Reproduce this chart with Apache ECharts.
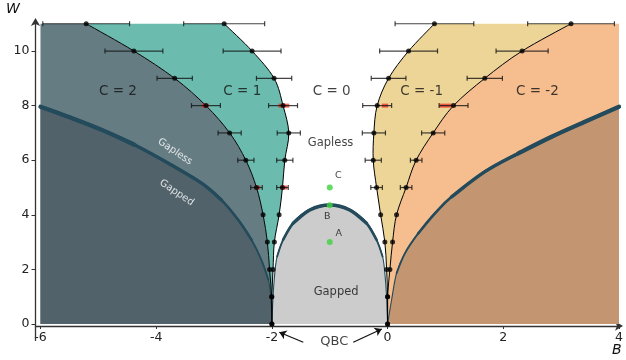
<!DOCTYPE html>
<html>
<head>
<meta charset="utf-8">
<title>Phase diagram B-W</title>
<script src="https://cdn.jsdelivr.net/npm/echarts@6/dist/echarts.min.js"></script>
<style>
  html, body { margin: 0; padding: 0; background: #fff; }
  #chart { width: 626px; height: 360px; }
</style>
</head>
<body>
<div id="chart"></div>
<script>
// W levels of the computed transition points
const wLevels = [0, 1, 2, 3, 4, 5, 6, 7, 8, 9, 10, 11]
// B position of each Chern-number boundary at those W
const bC2C1 = [-2.0, -2.005, -2.04, -2.078, -2.152, -2.266, -2.45, -2.73, -3.14, -3.68, -4.385, -5.21]
const bC1C0 = [-2.0, -2.0, -1.98, -1.957, -1.875, -1.817, -1.777, -1.708, -1.807, -1.962, -2.342, -2.825]
const bC0Cm1 = [0, 0, -0.017, -0.047, -0.12, -0.19, -0.248, -0.237, -0.18, 0.017, 0.363, 0.81]
const bCm1Cm2 = [0, 0, 0.04, 0.086, 0.155, 0.32, 0.494, 0.788, 1.14, 1.68, 2.325, 3.171]
// half width of the error bars (0 = none drawn)
const errC2C1 = [0, 0, 0, 0, 0, 0.1, 0.14, 0.2, 0.25, 0.305, 0.5, 0.75]
const errC1C0 = [0, 0, 0, 0, 0, 0.1, 0.14, 0.2, 0.25, 0.305, 0.5, 0.7]
const errC0Cm1 = [0, 0, 0, 0, 0, 0.1, 0.14, 0.2, 0.25, 0.3, 0.5, 0.68]
const errCm1Cm2 = [0, 0, 0, 0, 0, 0.1, 0.1, 0.2, 0.25, 0.305, 0.45, 0.75]
// second estimate (red) of some boundaries
const redW = [8, 8, 8, 8, 5, 5]
const redFrom = [-3.21, -1.889, -0.10, 0.893, -2.29, -1.86]
const redTo = [-3.09, -1.699, 0.01, 1.125, -2.20, -1.734]
// gapped / gapless boundaries
const gapLeftB = [-6.0, -5.52, -4.94, -4.37, -3.79, -3.21, -2.87, -2.58, -2.35, -2.18, -2.06, -2.015, -2.0]
const gapLeftW = [7.96, 7.59, 7.11, 6.56, 5.89, 5.15, 4.54, 3.81, 3.08, 2.34, 1.61, 0.88, 0]
const gapRightB = [0, 0.069, 0.155, 0.299, 0.529, 0.818, 1.106, 1.682, 2.258, 2.835, 3.41, 4.0]
const gapRightW = [0, 0.88, 1.86, 2.59, 3.32, 4.05, 4.66, 5.58, 6.25, 6.86, 7.41, 7.96]
const domeB = [-2, -1.98, -1.95, -1.91, -1.807, -1.634, -1.345, -1.0, -0.655, -0.363, -0.19, -0.086, -0.047, -0.017, 0]
const domeW = [0, 1.0, 1.86, 2.47, 3.08, 3.69, 4.18, 4.36, 4.18, 3.69, 3.08, 2.47, 1.86, 1.0, 0]
// test points A, B, C
const testB = [-1, -1, -1]
const testW = [3.0, 4.35, 5.0]
// ticks
const xTicks = [-6, -4, -2, 0, 2, 4]
const yTicks = [0, 2, 4, 6, 8, 10]

const FONT = 'DejaVu Sans'
const AXIS = '#333'

// catmull-rom through pixel points, as svg cubic segments
function spline(pts) {
  let d = ''
  for (let i = 0; i < pts.length - 1; i++) {
    const p0 = pts[Math.max(i - 1, 0)], p1 = pts[i], p2 = pts[i + 1], p3 = pts[Math.min(i + 2, pts.length - 1)]
    const c1x = p1[0] + (p2[0] - p0[0]) / 6, c1y = p1[1] + (p2[1] - p0[1]) / 6
    const c2x = p2[0] - (p3[0] - p1[0]) / 6, c2y = p2[1] - (p3[1] - p1[1]) / 6
    d += ` C ${c1x} ${c1y} ${c2x} ${c2y} ${p2[0]} ${p2[1]}`
  }
  return d
}
const pt = p => ` ${p[0]} ${p[1]}`

function renderRegions(params, api) {
  const px = (bs, ws) => bs.map((b, i) => api.coord([b, ws[i]]))
  const c = (b, w) => api.coord([b, w])
  const rev = a => a.slice().reverse()
  const l1 = px(bC2C1, wLevels), l2 = px(bC1C0, wLevels), l3 = px(bC0Cm1, wLevels), l4 = px(bCm1Cm2, wLevels)
  const gl = px(gapLeftB, gapLeftW), gr = px(gapRightB, gapRightW), dome = px(domeB, domeW)
  const area = (d, fill) => ({ type: 'path', shape: { pathData: d }, style: { fill: fill, stroke: null } })
  const stroke = (pts, color, width) => ({
    type: 'path', shape: { pathData: 'M' + pt(pts[0]) + spline(pts) },
    style: { fill: null, stroke: color, lineWidth: width, lineCap: 'round', lineJoin: 'round' }
  })
  // curve pieces above a W level get a thicker stroke (tapering line)
  const dark = '#244b5b'
  const tapered = (bs, ws, steps) => steps.map(([minW, width]) => {
    const idx = ws.map((w, i) => i).filter(i => ws[i] >= minW)
    return stroke(idx.map(i => c(bs[i], ws[i])), dark, width)
  })
  const taper = [[-1, 1.1], [1.5, 1.8], [3.0, 2.6], [4.5, 3.4], [6.0, 4.2]]
  const domeTaper = [[-1, 1.1], [2.4, 1.8], [3.0, 2.6], [3.65, 3.4]]
  return {
    type: 'group',
    children: [
      area('M' + pt(c(-6, 0)) + ' L' + pt(c(-6, 11)) + ' L' + pt(l1[11]) + spline(rev(l1)) + ' Z', '#657c83'),
      area('M' + pt(c(-6, 0)) + ' L' + pt(gl[0]) + spline(gl) + ' Z', '#51626a'),
      area('M' + pt(l1[0]) + spline(l1) + ' L' + pt(l2[11]) + spline(rev(l2)) + ' Z', '#6bbcaf'),
      area('M' + pt(dome[0]) + spline(dome) + ' Z', '#cccccc'),
      area('M' + pt(l3[0]) + spline(l3) + ' L' + pt(l4[11]) + spline(rev(l4)) + ' Z', '#edd597'),
      area('M' + pt(l4[0]) + spline(l4) + ' L' + pt(c(4, 11)) + ' L' + pt(c(4, 0)) + ' Z', '#f6bd8f'),
      area('M' + pt(gr[0]) + spline(gr) + ' L' + pt(c(4, 0)) + ' Z', '#c49571'),
      ...tapered(gapLeftB, gapLeftW, taper),
      ...tapered(gapRightB, gapRightW, taper),
      ...tapered(domeB, domeW, domeTaper),
      stroke(l1, '#000', 1),
      stroke(l2, '#000', 1),
      stroke(l3, '#000', 1),
      stroke(l4, '#000', 1)
    ]
  }
}

// rows for error bars and dots
const errRows = []
const dots = []
;[[bC2C1, errC2C1], [bC1C0, errC1C0], [bC0Cm1, errC0Cm1], [bCm1Cm2, errCm1Cm2]].forEach(([bs, es]) => {
  wLevels.forEach((w, i) => {
    dots.push([bs[i], w])
    if (es[i] > 0) errRows.push([bs[i], w, es[i]])
  })
})
const redRows = redW.map((w, i) => [redFrom[i], w, redTo[i]])

const chart = echarts.init(document.getElementById('chart'), null, { renderer: 'canvas' })

const txt = (name, b, w, extra) => ({ name: name, value: [b, w], label: Object.assign({ fontSize: 13.5 }, extra || {}) })

chart.setOption({
  animation: false,
  backgroundColor: '#fff',
  grid: { left: 35.5, right: 7, top: 21, bottom: 34, containLabel: false, outerBoundsMode: 'none' },
  xAxis: {
    type: 'value', min: -6.086, max: 4,
    axisLine: { show: true, onZero: false, symbol: ['none', 'arrow'], symbolSize: [7, 8], symbolOffset: [0, 4], lineStyle: { color: AXIS, width: 1.3 } },
    axisTick: { show: true, length: 3, customValues: xTicks, lineStyle: { color: AXIS } },
    axisLabel: { customValues: xTicks, color: '#222', fontSize: 12.5, margin: 5, fontFamily: FONT },
    splitLine: { show: false }
  },
  yAxis: {
    type: 'value', min: -0.073, max: 11.1,
    axisLine: { show: true, onZero: false, symbol: ['none', 'arrow'], symbolSize: [7, 8], symbolOffset: [0, 3], lineStyle: { color: AXIS, width: 1.3 } },
    axisTick: { show: true, length: 4, customValues: yTicks, lineStyle: { color: AXIS } },
    axisLabel: { customValues: yTicks, color: '#222', fontSize: 12.5, margin: 6, fontFamily: FONT },
    splitLine: { show: false }
  },
  graphic: [
    { type: 'text', left: 6, top: 2, style: { text: 'W', fontSize: 14, fontStyle: 'italic', fontFamily: FONT, fill: '#111' } },
    { type: 'text', left: 612, top: 343, style: { text: 'B', fontSize: 14, fontStyle: 'italic', fontFamily: FONT, fill: '#111' } }
  ],
  series: [
    {
      type: 'custom', name: 'regions', z: 1, silent: true,
      renderItem: renderRegions,
      data: [[0, 0]]
    },
    {
      type: 'custom', name: 'red', z: 2, silent: true,
      renderItem: (params, api) => {
        const a = api.coord([api.value(0), api.value(1)])
        const b = api.coord([api.value(2), api.value(1)])
        return { type: 'line', shape: { x1: a[0], y1: a[1], x2: b[0], y2: b[1] }, style: { stroke: 'rgba(235,45,35,0.75)', lineWidth: 4 } }
      },
      data: redRows
    },
    {
      type: 'custom', name: 'errors', z: 3, silent: true,
      renderItem: (params, api) => {
        const b = api.value(0), w = api.value(1), e = api.value(2)
        const lo = api.coord([b - e, w]), hi = api.coord([b + e, w])
        const st = { stroke: 'rgba(20,20,20,0.8)', lineWidth: 1.2 }
        return {
          type: 'group',
          children: [
            { type: 'line', shape: { x1: lo[0], y1: lo[1], x2: hi[0], y2: hi[1] }, style: st },
            { type: 'line', shape: { x1: lo[0], y1: lo[1] - 2.5, x2: lo[0], y2: lo[1] + 2.5 }, style: st },
            { type: 'line', shape: { x1: hi[0], y1: hi[1] - 2.5, x2: hi[0], y2: hi[1] + 2.5 }, style: st }
          ]
        }
      },
      data: errRows
    },
    {
      type: 'scatter', name: 'points', z: 4, silent: true, clip: false,
      symbolSize: 5, itemStyle: { color: '#000' },
      data: dots
    },
    {
      type: 'scatter', name: 'tests', z: 4, silent: true,
      symbolSize: 6, itemStyle: { color: '#3fd13f' },
      data: testB.map((b, i) => [b, testW[i]])
    },
    {
      type: 'lines', coordinateSystem: 'cartesian2d', z: 4, silent: true, clip: false,
      symbol: ['none', 'arrow'], symbolSize: 7,
      lineStyle: { color: '#111', width: 1.2, opacity: 1 },
      data: [
        { coords: [[-1.457, -0.67], [-1.872, -0.30]] },
        { coords: [[-0.593, -0.67], [-0.10, -0.18]] }
      ]
    },
    {
      // y axis line runs a bit below the x axis
      type: 'lines', coordinateSystem: 'cartesian2d', z: 4, silent: true, clip: false,
      symbol: 'none',
      lineStyle: { color: AXIS, width: 1.3, opacity: 1 },
      data: [{ coords: [[-6.086, -0.073], [-6.086, -0.62]] }]
    },
    {
      type: 'scatter', name: 'labels', z: 6, silent: true, clip: false,
      symbolSize: 1, itemStyle: { color: 'rgba(0,0,0,0)' },
      label: { show: true, position: 'inside', formatter: '{b}', color: '#111', fontFamily: FONT },
      data: [
        txt('C = 2', -4.66, 8.53),
        txt('C = 1', -2.512, 8.53),
        txt('C = 0', -0.967, 8.53),
        txt('C = -1', 0.588, 8.53),
        txt('C = -2', 2.59, 8.53),
        txt('Gapless', -0.985, 6.64, { fontSize: 11.5 }),
        txt('Gapped', -0.89, 1.16, { fontSize: 11.5 }),
        txt('A', -0.845, 3.32, { fontSize: 9.5 }),
        txt('B', -1.045, 3.93, { fontSize: 9.5 }),
        txt('C', -0.85, 5.43, { fontSize: 9.5 }),
        txt('Gapless', -3.675, 6.31, { fontSize: 10, color: '#fff', rotate: -34 }),
        txt('Gapped', -3.646, 4.81, { fontSize: 10, color: '#fff', rotate: -34 }),
        txt('QBC', -0.92, -0.65, { fontSize: 13 })
      ]
    }
  ]
})
</script>
</body>
</html>
